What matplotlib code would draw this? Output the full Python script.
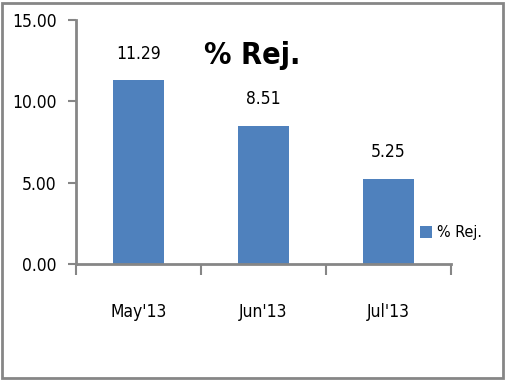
import matplotlib
matplotlib.use("Agg")
import matplotlib.pyplot as plt
from matplotlib.patches import Rectangle
from matplotlib.ticker import FormatStrFormatter

months = ["May'13", "Jun'13", "Jul'13"]
rej = [11.29, 8.51, 5.25]

plt.rcParams["font.family"] = ["DejaVu Sans"]
plt.rcParams["font.stretch"] = "condensed"
gray = "#868686"
bar_color = "#4F81BD"

fig = plt.figure(figsize=(5.12, 3.84), dpi=100)
fig.patches.append(Rectangle((2 / 512, 6 / 384), 501 / 512, 375 / 384, transform=fig.transFigure,
                             fill=False, edgecolor=gray, linewidth=2))

ax = fig.add_axes([76 / 512, 120 / 384, 375 / 512, 244 / 384])
x = list(range(len(months)))
bars = ax.bar(x, rej, width=0.41, color=bar_color, label="% Rej.")

for xi, v in zip(x, rej):
    ax.annotate(f"{v:.2f}", (xi, v), xytext=(0, 19), textcoords="offset points",
                ha="center", va="center", fontsize=12.5)

ax.set_xlim(-0.5, 2.5)
ax.set_ylim(0, 15)
ax.set_yticks([0, 5, 10, 15])
ax.yaxis.set_major_formatter(FormatStrFormatter("%.2f"))
ax.set_xticks(x)
ax.set_xticklabels(months)
ax.set_xticks([-0.5, 0.5, 1.5, 2.5], minor=True)
ax.tick_params(axis="x", which="major", length=0, pad=28, labelsize=12.5)
ax.tick_params(axis="x", which="minor", length=8, width=1.5, color=gray)
ax.tick_params(axis="y", length=6, width=1.5, color=gray, labelsize=12.5, pad=8)

for s in ["top", "right"]:
    ax.spines[s].set_visible(False)
for s in ["left", "bottom"]:
    ax.spines[s].set_color(gray)
    ax.spines[s].set_linewidth(2)

fig.text(252 / 512, 1 - 55 / 384, "% Rej.", ha="center", va="center",
         fontsize=22, fontweight="bold")

fig.legend(handles=[bars], labels=["% Rej."], loc="center left",
           bbox_to_anchor=(412 / 512, 1 - 233 / 384), frameon=False, fontsize=11.5,
           handlelength=0.75, handleheight=0.75, handletextpad=0.3, borderpad=0)

fig.savefig("out.png", dpi=100)
